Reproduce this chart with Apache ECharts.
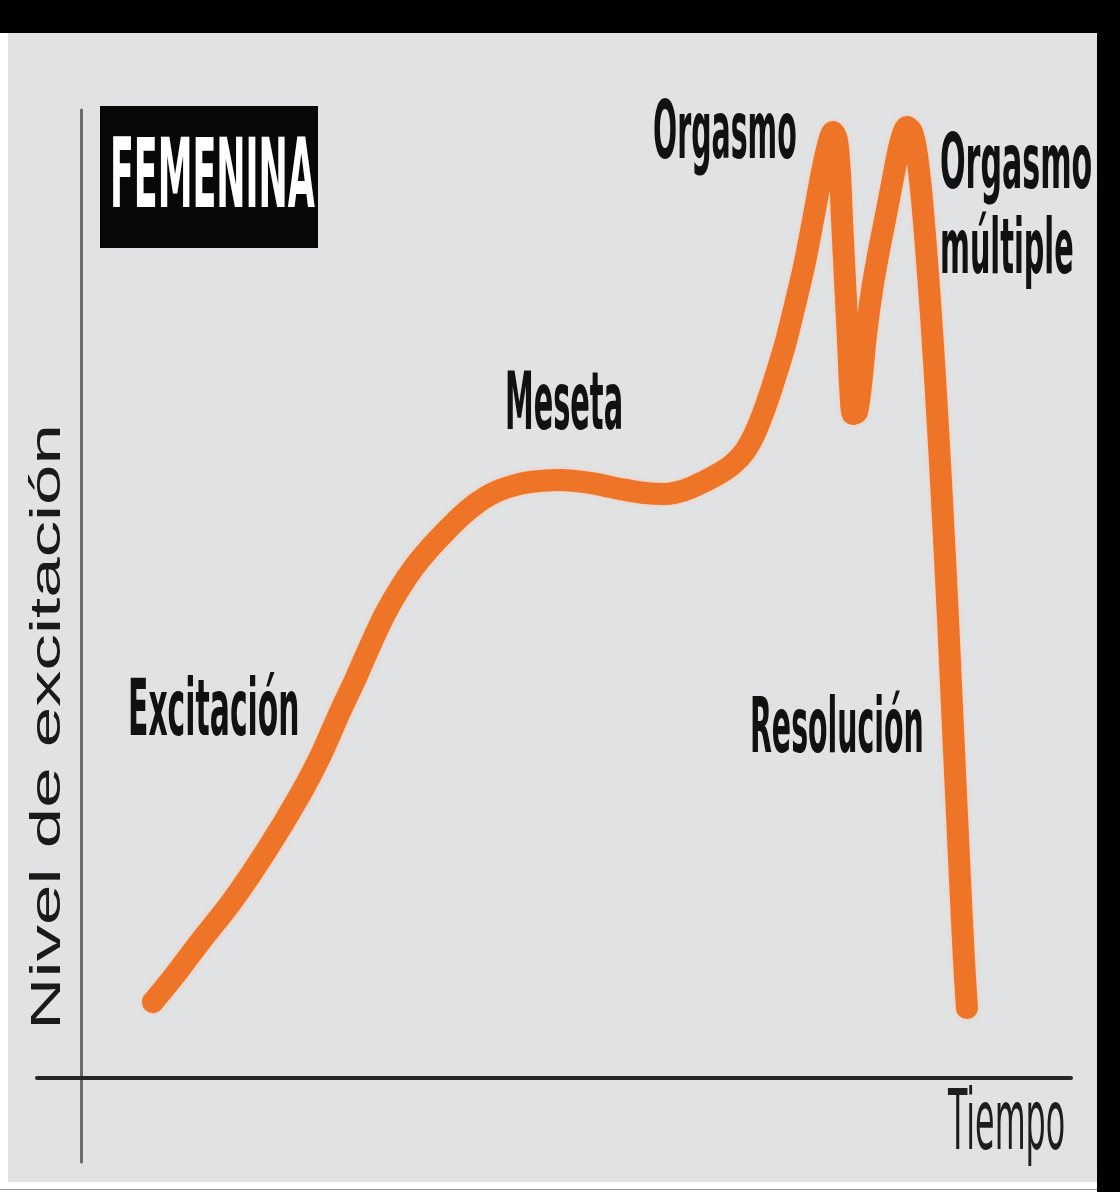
<!DOCTYPE html>
<html>
<head>
<meta charset="utf-8">
<script src="https://cdn.jsdelivr.net/npm/echarts@6.0.0/dist/echarts.min.js"></script>
<style>
    html, body {margin: 0; padding: 0; background: #ffffff;}
    #page {position: relative; width: 1120px; height: 1192px; overflow: hidden; background: #ffffff;}
    #panel {position: absolute; left: 8px; top: 33px; width: 1089px; height: 1149px; background: #e1e2e4;}
    #bandTop {position: absolute; left: 0; top: 0; width: 1120px; height: 33px; background: #000000;}
    #bandRight {position: absolute; left: 1097px; top: 0; width: 23px; height: 1192px; background: #000000;}
    #bottomLine {position: absolute; left: 0; top: 1189px; width: 1097px; height: 1px; background: #9a9a9a;}
    #chart {position: absolute; left: 0; top: 0; width: 1120px; height: 1192px;}
</style>
</head>
<body>
<div id="page">
    <div id="panel"></div>
    <div id="bandTop"></div>
    <div id="bandRight"></div>
    <div id="bottomLine"></div>
    <div id="chart"></div>
</div>
<script>
// arousal curve: time (0-100) and level (0-100)
const timeValues = [
    7.27, 9.49, 12.02, 15.35, 18.89, 22.12, 24.14, 26.16, 27.68, 29.19,
    30.71, 32.22, 33.74, 35.25, 36.77, 38.28, 40.0, 41.62, 43.54, 45.35,
    48.38, 51.41, 54.44, 56.97, 58.99, 61.01, 63.03, 64.55, 65.86, 67.07,
    68.08, 69.09, 70.10, 71.11, 72.12, 73.13, 74.04, 74.85, 75.45, 75.96,
    76.36, 76.67, 76.87, 77.17, 77.47, 77.68, 77.98, 78.38, 78.79, 79.29,
    79.90, 80.61, 81.41, 82.22, 82.83, 83.43, 83.94, 84.44, 84.95, 85.45,
    85.96, 86.46, 86.97, 87.58, 88.18, 88.79, 89.19, 89.49,
];
const levelValues = [
    7.85, 10.64, 14.05, 18.39, 23.76, 29.24, 33.16, 37.81, 41.12, 44.63,
    47.93, 50.62, 52.89, 54.75, 56.40, 57.95, 59.40, 60.43, 61.16, 61.57,
    61.78, 61.47, 60.85, 60.43, 60.33, 60.74, 61.67, 62.50, 63.43, 64.77,
    66.63, 69.21, 72.31, 75.72, 79.86, 84.30, 89.15, 93.60, 96.38, 97.73,
    96.90, 93.29, 88.64, 82.44, 76.24, 71.59, 68.60, 68.80, 71.59, 76.76,
    81.40, 85.54, 89.67, 94.01, 96.90, 98.24, 97.73, 95.35, 90.70, 84.50,
    77.27, 69.01, 59.71, 47.31, 33.88, 20.45, 12.19, 7.23,
];

const phaseLabels = ['Excitación', 'Meseta', 'Orgasmo', 'Orgasmo', 'múltiple', 'Resolución'];
const panelTitle = 'FEMENINA';
const yAxisTitle = 'Nivel de excitación';
const xAxisTitle = 'Tiempo';

const curveColor = '#ee7528';

const boldLabel = (text, left, capMid, size, sx, fill) => ({
    type: 'text',
    x: left,
    y: capMid,
    scaleX: sx,
    z: 100,
    style: {
        text: text,
        fontFamily: '"Liberation Sans Narrow", "DejaVu Sans Condensed", sans-serif',
        fontWeight: 'bold',
        fontSize: size,
        fill: fill || '#111111',
        align: 'left',
        verticalAlign: 'middle',
        textAlign: 'left',
        textVerticalAlign: 'middle',
    },
});

const chart = echarts.init(document.getElementById('chart'), null, {renderer: 'canvas'});
chart.setOption({
    animation: false,
    backgroundColor: 'transparent',
    grid: [
        {left: 81, right: 49, top: 110, bottom: 30},
        {left: 37, right: 49, top: 110, bottom: 114},
    ],
    xAxis: [
        {gridIndex: 0, type: 'value', min: 0, max: 100, show: false},
        {
            gridIndex: 1, type: 'value', min: 0, max: 100,
            axisLine: {show: true, onZero: false, lineStyle: {color: '#262626', width: 4}},
            axisTick: {show: false},
            axisLabel: {show: false},
            splitLine: {show: false},
        },
    ],
    yAxis: [
        {
            gridIndex: 0, type: 'value', min: -8.68, max: 100,
            axisLine: {show: true, onZero: false, lineStyle: {color: '#6a6a6a', width: 3}},
            axisTick: {show: false},
            axisLabel: {show: false},
            splitLine: {show: false},
        },
        {gridIndex: 1, type: 'value', min: 0, max: 100, show: false},
    ],
    series: [
        {
            type: 'line',
            xAxisIndex: 0,
            yAxisIndex: 0,
            data: timeValues.map((t, i) => [t, levelValues[i]]),
            smooth: 0.3,
            showSymbol: false,
            silent: true,
            lineStyle: {
                color: curveColor,
                width: 22,
                cap: 'round',
                join: 'round',
                shadowColor: 'rgba(255, 196, 160, 0.8)',
                shadowBlur: 4,
            },
        },
    ],
    graphic: [
        {
            type: 'rect',
            shape: {x: 100, y: 106, width: 218, height: 142},
            style: {fill: '#080808'},
            z: 90,
        },
        boldLabel(panelTitle, 110, 182, 97, 0.40, '#ffffff'),
        boldLabel(phaseLabels[0], 128, 715, 78, 0.425),
        boldLabel(phaseLabels[1], 505, 408, 80, 0.40),
        boldLabel(phaseLabels[2], 653, 137, 81, 0.39),
        boldLabel(phaseLabels[3], 940, 168, 76, 0.44),
        boldLabel(phaseLabels[4], 940, 253, 76, 0.42),
        boldLabel(phaseLabels[5], 750, 732, 77, 0.41),
        {
            type: 'text',
            x: 948,
            y: 1127,
            scaleX: 0.42,
            z: 100,
            style: {
                text: xAxisTitle,
                fontFamily: '"Liberation Sans Narrow", "DejaVu Sans Condensed", sans-serif',
                fontSize: 84,
                fill: '#1e1e1e',
                align: 'left',
                verticalAlign: 'middle',
                textAlign: 'left',
                textVerticalAlign: 'middle',
            },
        },
        {
            type: 'text',
            x: 48,
            y: 727,
            rotation: Math.PI / 2,
            scaleX: 1.69,
            z: 100,
            style: {
                text: yAxisTitle,
                fontFamily: '"Liberation Sans", Arial, sans-serif',
                fontSize: 43,
                fill: '#1a1a1a',
                align: 'center',
                verticalAlign: 'middle',
                textAlign: 'center',
                textVerticalAlign: 'middle',
            },
        },
    ],
});
</script>
</body>
</html>
